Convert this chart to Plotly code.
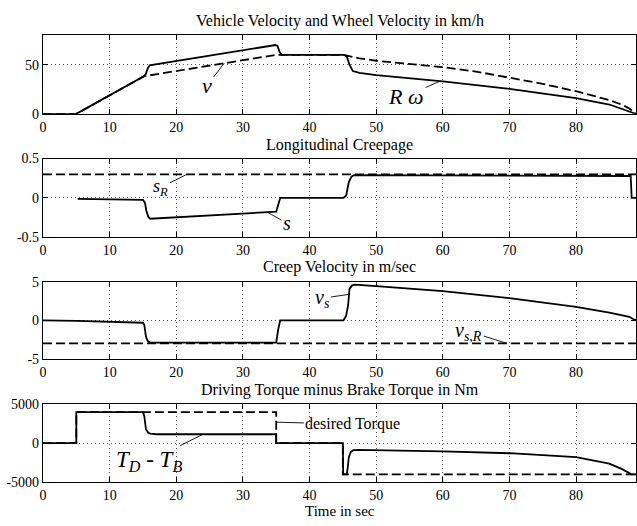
import plotly.graph_objects as go

# ---------------- data ----------------
x_ticks = [0, 10, 20, 30, 40, 50, 60, 70, 80]

# Panel 1: vehicle velocity v (dashed) and wheel velocity R*omega (solid), km/h
t_v = [0, 5, 15.2, 35, 45, 46.5, 47.5, 50, 55, 60, 65, 70, 75, 80, 83, 85, 87, 88, 89]
v = [0, 0, 38.3, 60, 60, 58, 56.5, 54, 51, 47.5, 43, 37, 30.5, 23, 18, 14, 9, 5.5, 0]
t_rw = [0, 5, 15.0, 15.4, 15.7, 16.0, 34.9, 35.2, 35.5, 35.8, 45.2, 45.6, 46.0, 46.5, 47.5, 50, 60, 70, 80, 85, 89]
rw = [0, 0, 37.8, 40, 46, 49.3, 70, 69, 63, 60, 60, 58, 50, 43.5, 41.7, 39.3, 33, 25.5, 16, 9.5, 0]

# Panel 2: longitudinal creepage s (solid) and reference s_R (dashed)
t_s = [5.2, 15.0, 15.3, 15.5, 15.8, 16.1, 35.0, 35.3, 35.6, 45.1, 45.5, 45.9, 46.3, 46.7, 60, 80, 88.2, 88.35, 89]
s = [-0.012, -0.025, -0.06, -0.16, -0.24, -0.265, -0.175, -0.07, 0, 0, 0.03, 0.2, 0.27, 0.29, 0.288, 0.283, 0.278, 0, 0]
t_sR = [0, 89]
s_R = [0.3, 0.3]

# Panel 3: creep velocity v_s (solid) and reference v_s,R (dashed), m/s
t_vs = [0, 5, 5.15, 15.0, 15.2, 15.45, 15.7, 16.05, 35.0, 35.3, 35.6, 45.1, 45.5, 45.8, 46.0, 46.4, 46.8, 50, 60, 70, 80, 85, 88, 88.8, 89]
vs = [0, -0.02, -0.08, -0.32, -0.6, -2.1, -2.7, -2.9, -2.9, -1.2, 0, 0, 0.6, 2.0, 4.1, 4.55, 4.66, 4.46, 3.8, 2.88, 1.76, 1.0, 0.46, 0.05, 0.05]
t_vsR = [0, 89]
vs_R = [-3, -3]

# Panel 4: driving torque minus brake torque (solid) and desired torque (dashed), Nm
t_T = [0, 5, 5, 15.0, 15.2, 15.45, 15.8, 16.1, 17.0, 35, 35, 45.0, 45.05, 45.6, 45.75, 45.9, 46.2, 46.6, 47.2, 50, 60, 70, 80, 85, 87, 88.3, 89]
T = [0, 0, 4000, 4000, 3500, 1800, 1350, 1230, 1150, 1150, 0, 0, -4000, -4000, -3000, -1800, -1100, -900, -860, -880, -1040, -1290, -1790, -2620, -3370, -4000, -4000]
t_Tdes = [0, 5, 5, 35, 35, 45, 45, 89]
T_des = [0, 0, 4000, 4000, 0, 0, -4000, -4000]

titles = ["Vehicle Velocity and Wheel Velocity in km/h",
          "Longitudinal Creepage",
          "Creep Velocity in m/sec",
          "Driving Torque minus Brake Torque in Nm"]
y_ranges = [[0, 80], [-0.5, 0.5], [-5, 5], [-5000, 5000]]
y_tickvals = [[0, 50], [-0.5, 0, 0.5], [-5, 0, 5], [-5000, 0, 5000]]
y_ticktext = [["0", "50"], ["-0.5", "0", "0.5"], ["-5", "0", "5"], ["-5000", "0", "5000"]]
x_label = "Time in sec"

# ---------------- figure ----------------
W, H = 637, 526
FONT = "Liberation Serif, Times New Roman, DejaVu Serif, serif"
SOLID = dict(color="black", width=1.8)
DASH = dict(color="black", width=1.8, dash="9px,4px")
suf = ["", "2", "3", "4"]

fig = go.Figure()


def add(x, y, i, line):
    fig.add_trace(go.Scatter(x=x, y=y, mode="lines", line=line,
                             xaxis="x" + suf[i], yaxis="y" + suf[i],
                             showlegend=False, hoverinfo="skip"))


add(t_v, v, 0, DASH)
add(t_rw, rw, 0, SOLID)
add(t_sR, s_R, 1, DASH)
add(t_s, s, 1, SOLID)
add(t_vsR, vs_R, 2, DASH)
add(t_vs, vs, 2, SOLID)
add(t_Tdes, T_des, 3, DASH)
add(t_T, T, 3, SOLID)


def dom(top, bot):
    return [1 - bot / H, 1 - top / H]


domains = [dom(29, 110), dom(156, 237), dom(283, 362), dom(409, 489)]
title_y = [14, 142, 268, 394]

layout = dict(width=W, height=H, margin=dict(l=43, r=1, t=0, b=0),
              paper_bgcolor="white", plot_bgcolor="white",
              font=dict(family=FONT, color="black", size=14),
              showlegend=False)
common = dict(ticks="inside", ticklen=5, tickcolor="black", showline=True,
              linecolor="black", linewidth=1.3, mirror="ticks",
              showgrid=True, gridcolor="#555", gridwidth=1, griddash="1px,3px",
              zeroline=False, tickfont=dict(family=FONT, size=14, color="black"))
for i in range(4):
    layout["xaxis" + suf[i]] = dict(domain=[0, 1], anchor="y" + suf[i], range=[0, 89],
                                    tickvals=x_ticks, ticktext=[str(t) for t in x_ticks],
                                    **common)
    layout["yaxis" + suf[i]] = dict(domain=domains[i], anchor="x" + suf[i],
                                    range=y_ranges[i], tickvals=y_tickvals[i],
                                    ticktext=y_ticktext[i], **common)
fig.update_layout(**layout)

ann = []
for i in range(4):
    ann.append(dict(text=titles[i], x=(339.5 - 43) / 593, xref="paper", xanchor="center",
                    y=1 - title_y[i] / H, yref="paper", yanchor="middle",
                    showarrow=False, font=dict(family=FONT, size=16)))
ann.append(dict(text=x_label, x=(339.5 - 43) / 593, xref="paper", xanchor="center",
                y=1 - 519 / H, yref="paper", yanchor="middle",
                showarrow=False, font=dict(family=FONT, size=15)))


def label(text, i, x, y, ax, ay, size):
    ann.append(dict(text=text, x=x, y=y, xref="x" + suf[i], yref="y" + suf[i],
                    ax=ax, ay=ay, showarrow=True, arrowhead=0, arrowwidth=0.9,
                    arrowcolor="black", standoff=0, startstandoff=0,
                    font=dict(family=FONT, size=size)))


label("<i>v</i>", 0, 27.2, 51.5, -17, 22, 22)
label("<i>R</i> <i>ω</i>", 0, 59.6, 33.3, -34, 15, 22)
label("<i>s</i><sub><i>R</i></sub>", 1, 21.6, 0.3, -26, 13, 18)
label("<i>s</i>", 1, 33.6, -0.18, 20, 11, 20)
label("<i>v</i><sub><i>s</i></sub>", 2, 46.1, 3.4, -28, 4, 20)
label("<i>v</i><sub><i>s</i>,<i>R</i></sub>", 2, 69.6, -3, -38, -12, 20)
label("<i>T</i><sub><i>D</i></sub> - <i>T</i><sub><i>B</i></sub>", 3, 24, 1150, -54, 27, 23)
label("desired Torque", 3, 35.1, 2700, 76, 2, 16)

fig.update_layout(annotations=ann)
fig.write_html("out.html", config={"displayModeBar": False},
               post_script="document.body.style.margin='0';document.body.style.overflow='hidden';")
